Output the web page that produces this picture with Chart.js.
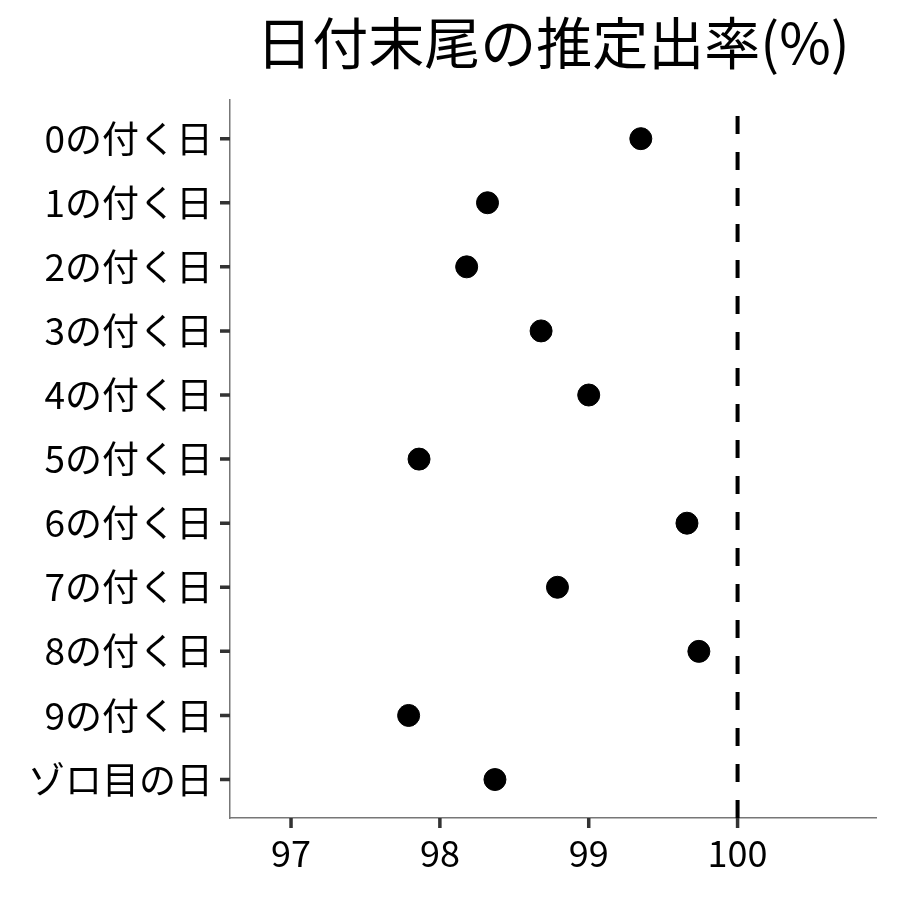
<!DOCTYPE html>
<html>
<head>
<meta charset="utf-8">
<script src="https://cdn.jsdelivr.net/npm/chart.js@4"></script>
<style>
  html, body { margin: 0; padding: 0; background: #fff; }
  #wrap { width: 900px; height: 900px; }
</style>
</head>
<body>
<div id="wrap"><canvas id="myChart"></canvas></div>
<script>
(function () {
    'use strict';

    var categories = ['0の付く日', '1の付く日', '2の付く日', '3の付く日', '4の付く日',
        '5の付く日', '6の付く日', '7の付く日', '8の付く日', '9の付く日', 'ゾロ目の日'];
    var rates = [99.35, 98.32, 98.18, 98.68, 99.00, 97.86, 99.66, 98.79, 99.74, 97.79, 98.37];
    var xTicks = [97, 98, 99, 100];
    var refLine = 100;

    var font = "'Noto Sans CJK JP', 'Noto Sans', sans-serif";

    var points = rates.map(function (v, i) {
        return { x: v, y: i };
    });
    var yMin = -0.6;
    var yMax = categories.length - 1 + 0.6;
    var tickLen = 10;

    // keep room for the ticks, draw them in the plugin below
    var gridOpts = {
        drawOnChartArea: false,
        drawTicks: true,
        tickLength: tickLen,
        tickColor: 'rgba(0,0,0,0)'
    };

    var tickMarks = {
        id: 'tickMarks',
        afterDraw: function (chart) {
            var ctx = chart.ctx;
            var xs = chart.scales.x;
            var ys = chart.scales.y;
            var area = chart.chartArea;
            ctx.save();
            ctx.strokeStyle = '#333';
            ctx.lineWidth = 3.5;
            ctx.beginPath();
            categories.forEach(function (c, i) {
                var py = ys.getPixelForValue(i);
                ctx.moveTo(area.left - tickLen, py);
                ctx.lineTo(area.left, py);
            });
            xTicks.forEach(function (v) {
                var px = xs.getPixelForValue(v);
                ctx.moveTo(px, area.bottom);
                ctx.lineTo(px, area.bottom + tickLen);
            });
            ctx.stroke();
            ctx.restore();
        }
    };

    new Chart(document.getElementById('myChart'), {
        type: 'scatter',
        data: {
            datasets: [
                {
                    label: 'rate',
                    data: points,
                    backgroundColor: '#000',
                    borderColor: '#000',
                    pointRadius: 11,
                    pointHoverRadius: 11
                },
                {
                    type: 'line',
                    label: 'ref',
                    data: [{ x: refLine, y: yMax }, { x: refLine, y: yMin }],
                    borderColor: '#000',
                    borderWidth: 4,
                    borderDash: [18, 18],
                    pointRadius: 0
                }
            ]
        },
        plugins: [tickMarks],
        options: {
            responsive: true,
            maintainAspectRatio: false,
            animation: false,
            layout: { padding: { left: 0, right: 24, top: 0, bottom: 0 } },
            scales: {
                x: {
                    type: 'linear',
                    min: 96.59,
                    max: 100.93,
                    afterBuildTicks: function (scale) {
                        scale.ticks = xTicks.map(function (v) { return { value: v }; });
                    },
                    afterFit: function (scale) { scale.height = 82; },
                    grid: gridOpts,
                    border: { display: true, color: '#777', width: 1.5 },
                    ticks: {
                        color: '#000',
                        padding: 4,
                        font: { family: font, size: 36 }
                    }
                },
                y: {
                    type: 'linear',
                    reverse: true,
                    min: yMin,
                    max: yMax,
                    afterBuildTicks: function (scale) {
                        scale.ticks = categories.map(function (c, i) { return { value: i }; });
                    },
                    afterFit: function (scale) { scale.width = 230; },
                    grid: gridOpts,
                    border: { display: true, color: '#777', width: 1.5 },
                    ticks: {
                        color: '#000',
                        padding: 7,
                        autoSkip: false,
                        font: { family: font, size: 37 },
                        callback: function (value) { return categories[value]; }
                    }
                }
            },
            plugins: {
                legend: { display: false },
                tooltip: { enabled: false },
                title: {
                    display: true,
                    fullSize: false,
                    text: '日付末尾の推定出率(%)',
                    color: '#000',
                    font: { family: font, size: 56, weight: 'normal' },
                    padding: { top: 9, bottom: 24 }
                }
            }
        }
    });
})();
</script>
</body>
</html>
